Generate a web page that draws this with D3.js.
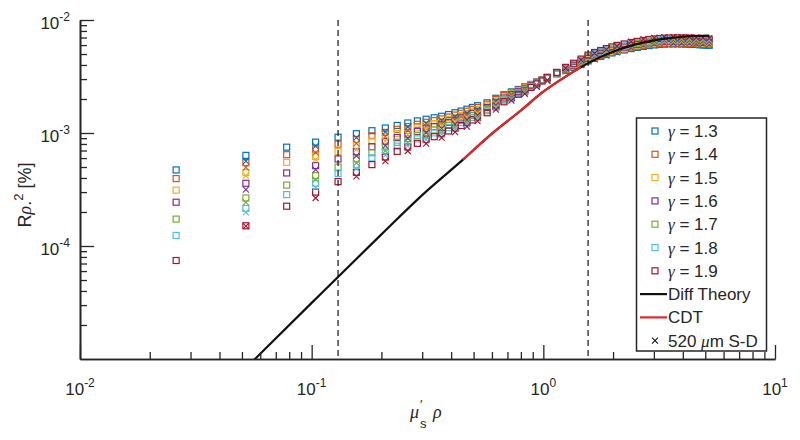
<!DOCTYPE html>
<html><head><meta charset="utf-8">
<script src="https://cdn.jsdelivr.net/npm/d3@7"></script>
<style>
body{margin:0;background:#fff}
svg{display:block}
text{font-family:"Liberation Sans",Arial,Helvetica,sans-serif;fill:#262626}
.serif{font-family:"Liberation Serif","Times New Roman",serif;font-style:italic}
</style>
</head><body>
<svg id="c" width="800" height="440"></svg>
<script>
// ---------------- data ----------------
const gammaLabels = ["1.3","1.4","1.5","1.6","1.7","1.8","1.9"];
const colors = ["#0072BD","#D95319","#EDB120","#7E2F8E","#77AC30","#4DBEEE","#A2142F"];

// mu_s' * rho for the square markers
const xSquares = [0.026,0.052,0.078,0.104,0.13,0.156,0.182,0.208,0.234,0.26,0.286,0.312,0.338,0.364,0.39,0.416,0.442,0.468,0.494,0.52,
  0.572,0.624,0.676,0.728,0.78,0.832,0.884,0.936,0.988,1.04,
  1.144,1.248,1.352,1.456,1.56,1.664,1.768,1.872,1.976,2.08,
  2.236,2.392,2.548,2.704,2.86,3.016,3.172,3.328,3.484,3.64,3.796,3.952,4.108,4.264,4.42,4.576,4.732,4.888,5.044,5.2];

const g13 = [0.471e-3,0.634e-3,0.749e-3,0.830e-3,0.918e-3,0.986e-3,1.048e-3,1.107e-3,1.167e-3,1.226e-3,1.279e-3,1.323e-3,1.364e-3,1.406e-3,1.456e-3,1.511e-3,1.564e-3,1.624e-3,1.685e-3,1.744e-3,
  1.85e-3,2.03e-3,2.18e-3,2.31e-3,2.43e-3,2.56e-3,2.69e-3,2.83e-3,2.95e-3,3.08e-3,
  3.34e-3,3.58e-3,3.81e-3,4.07e-3,4.34e-3,4.57e-3,4.76e-3,4.94e-3,5.11e-3,5.27e-3,
  5.43e-3,5.58e-3,5.72e-3,5.84e-3,5.94e-3,6.02e-3,6.07e-3,6.11e-3,6.14e-3,6.14e-3,6.15e-3,6.14e-3,6.12e-3,6.11e-3,6.09e-3,6.07e-3,6.04e-3,6.02e-3,5.99e-3,5.97e-3];
const g14 = [0.395e-3,0.547e-3,0.643e-3,0.719e-3,0.797e-3,0.877e-3,0.945e-3,1.013e-3,1.078e-3,1.139e-3,1.194e-3,1.243e-3,1.288e-3,1.334e-3,1.384e-3,1.441e-3,1.496e-3,1.558e-3,1.620e-3,1.685e-3,
  1.80e-3,1.98e-3,2.14e-3,2.27e-3,2.40e-3,2.53e-3,2.67e-3,2.81e-3,2.94e-3,3.08e-3,
  3.35e-3,3.62e-3,3.86e-3,4.14e-3,4.41e-3,4.66e-3,4.85e-3,5.03e-3,5.20e-3,5.37e-3,
  5.53e-3,5.69e-3,5.83e-3,5.95e-3,6.06e-3,6.13e-3,6.19e-3,6.22e-3,6.25e-3,6.26e-3,6.26e-3,6.26e-3,6.25e-3,6.23e-3,6.21e-3,6.19e-3,6.16e-3,6.13e-3,6.11e-3,6.09e-3];
const g15 = [0.312e-3,0.446e-3,0.550e-3,0.621e-3,0.684e-3,0.772e-3,0.847e-3,0.922e-3,0.990e-3,1.054e-3,1.110e-3,1.162e-3,1.211e-3,1.261e-3,1.313e-3,1.370e-3,1.427e-3,1.490e-3,1.555e-3,1.620e-3,
  1.741e-3,1.93e-3,2.09e-3,2.23e-3,2.36e-3,2.50e-3,2.65e-3,2.80e-3,2.93e-3,3.09e-3,
  3.37e-3,3.65e-3,3.91e-3,4.20e-3,4.50e-3,4.76e-3,4.95e-3,5.13e-3,5.31e-3,5.48e-3,
  5.64e-3,5.81e-3,5.95e-3,6.07e-3,6.17e-3,6.25e-3,6.32e-3,6.34e-3,6.37e-3,6.38e-3,6.38e-3,6.38e-3,6.37e-3,6.35e-3,6.33e-3,6.31e-3,6.28e-3,6.25e-3,6.23e-3,6.20e-3];
const g16 = [0.244e-3,0.359e-3,0.443e-3,0.514e-3,0.589e-3,0.681e-3,0.757e-3,0.840e-3,0.911e-3,0.974e-3,1.031e-3,1.090e-3,1.139e-3,1.191e-3,1.243e-3,1.302e-3,1.361e-3,1.427e-3,1.493e-3,1.561e-3,
  1.685e-3,1.87e-3,2.04e-3,2.19e-3,2.32e-3,2.46e-3,2.62e-3,2.78e-3,2.92e-3,3.09e-3,
  3.39e-3,3.69e-3,3.96e-3,4.28e-3,4.58e-3,4.84e-3,5.04e-3,5.23e-3,5.42e-3,5.58e-3,
  5.76e-3,5.92e-3,6.07e-3,6.19e-3,6.28e-3,6.37e-3,6.42e-3,6.46e-3,6.49e-3,6.50e-3,6.51e-3,6.50e-3,6.49e-3,6.47e-3,6.45e-3,6.42e-3,6.40e-3,6.37e-3,6.34e-3,6.32e-3];
const g17 = [0.173e-3,0.266e-3,0.346e-3,0.419e-3,0.499e-3,0.591e-3,0.669e-3,0.754e-3,0.828e-3,0.893e-3,0.951e-3,1.010e-3,1.062e-3,1.117e-3,1.172e-3,1.230e-3,1.292e-3,1.356e-3,1.427e-3,1.496e-3,
  1.624e-3,1.82e-3,1.99e-3,2.14e-3,2.28e-3,2.43e-3,2.59e-3,2.76e-3,2.91e-3,3.09e-3,
  3.41e-3,3.73e-3,4.02e-3,4.36e-3,4.68e-3,4.95e-3,5.15e-3,5.34e-3,5.53e-3,5.71e-3,
  5.87e-3,6.06e-3,6.19e-3,6.32e-3,6.42e-3,6.51e-3,6.57e-3,6.61e-3,6.63e-3,6.65e-3,6.65e-3,6.64e-3,6.63e-3,6.62e-3,6.59e-3,6.57e-3,6.54e-3,6.51e-3,6.49e-3,6.46e-3];
const g18 = [0.124e-3,0.215e-3,0.285e-3,0.360e-3,0.437e-3,0.525e-3,0.603e-3,0.691e-3,0.765e-3,0.830e-3,0.887e-3,0.949e-3,1.002e-3,1.058e-3,1.114e-3,1.174e-3,1.236e-3,1.302e-3,1.372e-3,1.444e-3,
  1.574e-3,1.77e-3,1.95e-3,2.11e-3,2.24e-3,2.40e-3,2.57e-3,2.74e-3,2.90e-3,3.10e-3,
  3.42e-3,3.76e-3,4.07e-3,4.42e-3,4.77e-3,5.04e-3,5.25e-3,5.44e-3,5.64e-3,5.82e-3,
  5.99e-3,6.16e-3,6.32e-3,6.44e-3,6.54e-3,6.63e-3,6.69e-3,6.73e-3,6.76e-3,6.77e-3,6.78e-3,6.77e-3,6.76e-3,6.74e-3,6.71e-3,6.69e-3,6.66e-3,6.63e-3,6.60e-3,6.58e-3];
const g19 = [0.0744e-3,0.151e-3,0.225e-3,0.300e-3,0.371e-3,0.449e-3,0.525e-3,0.613e-3,0.688e-3,0.752e-3,0.810e-3,0.873e-3,0.928e-3,0.986e-3,1.042e-3,1.103e-3,1.165e-3,1.233e-3,1.305e-3,1.378e-3,
  1.511e-3,1.709e-3,1.89e-3,2.05e-3,2.20e-3,2.36e-3,2.53e-3,2.72e-3,2.89e-3,3.11e-3,
  3.44e-3,3.81e-3,4.14e-3,4.51e-3,4.89e-3,5.16e-3,5.37e-3,5.58e-3,5.78e-3,5.96e-3,
  6.14e-3,6.32e-3,6.47e-3,6.60e-3,6.72e-3,6.80e-3,6.86e-3,6.90e-3,6.92e-3,6.93e-3,6.94e-3,6.93e-3,6.92e-3,6.90e-3,6.88e-3,6.86e-3,6.83e-3,6.80e-3,6.77e-3,6.75e-3];

// mu_s' * rho for the 520 um S-D cross markers
const xCross = [0.052,0.104,0.156,0.208,0.26,0.312,0.364,0.416,0.468,0.52,
  0.624,0.728,0.832,0.936,1.04,1.248,1.456,1.664,1.872,2.08,
  2.392,2.704,3.016,3.328,3.64,3.952,4.264,4.576,4.888,5.2];
const sd13 = [0.564e-3,0.764e-3,0.909e-3,1.021e-3,1.130e-3,1.220e-3,1.296e-3,1.393e-3,1.497e-3,1.608e-3,1.91e-3,2.17e-3,2.41e-3,2.66e-3,2.90e-3,3.51e-3,3.99e-3,4.48e-3,4.84e-3,5.16e-3,5.69e-3,5.96e-3,6.14e-3,6.23e-3,6.26e-3,6.26e-3,6.23e-3,6.19e-3,6.14e-3,6.09e-3];
const sd14 = [0.497e-3,0.670e-3,0.809e-3,0.934e-3,1.050e-3,1.146e-3,1.230e-3,1.329e-3,1.436e-3,1.554e-3,1.86e-3,2.14e-3,2.38e-3,2.64e-3,2.90e-3,3.55e-3,4.06e-3,4.57e-3,4.93e-3,5.26e-3,5.80e-3,6.07e-3,6.25e-3,6.34e-3,6.39e-3,6.39e-3,6.35e-3,6.31e-3,6.25e-3,6.21e-3];
const sd15 = [0.420e-3,0.581e-3,0.712e-3,0.850e-3,0.972e-3,1.071e-3,1.163e-3,1.263e-3,1.374e-3,1.494e-3,1.82e-3,2.10e-3,2.35e-3,2.63e-3,2.91e-3,3.58e-3,4.12e-3,4.66e-3,5.03e-3,5.37e-3,5.93e-3,6.19e-3,6.38e-3,6.47e-3,6.51e-3,6.51e-3,6.48e-3,6.44e-3,6.38e-3,6.32e-3];
const sd16 = [0.316e-3,0.474e-3,0.628e-3,0.774e-3,0.898e-3,1.005e-3,1.098e-3,1.200e-3,1.316e-3,1.439e-3,1.76e-3,2.06e-3,2.31e-3,2.62e-3,2.91e-3,3.62e-3,4.19e-3,4.74e-3,5.13e-3,5.47e-3,6.04e-3,6.31e-3,6.50e-3,6.59e-3,6.63e-3,6.63e-3,6.60e-3,6.55e-3,6.50e-3,6.45e-3];
const sd17 = [0.243e-3,0.387e-3,0.545e-3,0.695e-3,0.823e-3,0.931e-3,1.030e-3,1.134e-3,1.250e-3,1.379e-3,1.71e-3,2.01e-3,2.29e-3,2.60e-3,2.91e-3,3.66e-3,4.27e-3,4.85e-3,5.23e-3,5.60e-3,6.18e-3,6.45e-3,6.64e-3,6.74e-3,6.78e-3,6.77e-3,6.75e-3,6.70e-3,6.64e-3,6.59e-3];
const sd18 = [0.198e-3,0.329e-3,0.484e-3,0.637e-3,0.765e-3,0.875e-3,0.975e-3,1.082e-3,1.200e-3,1.331e-3,1.67e-3,1.99e-3,2.26e-3,2.58e-3,2.92e-3,3.68e-3,4.33e-3,4.94e-3,5.33e-3,5.70e-3,6.28e-3,6.57e-3,6.76e-3,6.86e-3,6.91e-3,6.91e-3,6.87e-3,6.82e-3,6.76e-3,6.71e-3];
const sd19 = [0.150e-3,0.266e-3,0.414e-3,0.565e-3,0.693e-3,0.805e-3,0.909e-3,1.017e-3,1.137e-3,1.271e-3,1.61e-3,1.93e-3,2.22e-3,2.56e-3,2.93e-3,3.73e-3,4.42e-3,5.06e-3,5.47e-3,5.84e-3,6.45e-3,6.73e-3,6.94e-3,7.04e-3,7.07e-3,7.07e-3,7.04e-3,7.00e-3,6.94e-3,6.89e-3];

// theory curves
const theoryX   = [0.045,0.05,0.1,0.2,0.3,0.45,0.6,0.8,1.0,1.2,1.45,1.6,2.0,2.5,3.0,3.5,4.0,4.5,5.2];
const diffTheory= [6.21e-6,7.69e-6,3.14e-5,1.267e-4,2.82e-4,5.81e-4,9.86e-4,1.582e-3,2.32e-3,3.00e-3,3.81e-3,4.26e-3,5.23e-3,6.08e-3,6.60e-3,6.92e-3,7.11e-3,7.22e-3,7.27e-3];
const cdtX = [0.45,0.6,0.8,1.0,1.2,1.45];
const cdt  = [5.81e-4,9.86e-4,1.582e-3,2.32e-3,3.00e-3,3.81e-3];

const vLines = [0.13, 1.56];
const xMajor = [1e-2,1e-1,1,10];
const xTickExp = ["-2","-1","0","1"];
const yMajor = [1e-4,1e-3,1e-2];
const yTickExp = ["-4","-3","-2"];
const legendText = ["Diff Theory","CDT"];

// ---------------- drawing ----------------
const svg = d3.select("#c");
const axisColor = "#262626";
const x = d3.scaleLog().domain([1e-2,10]).range([80,775]);
const y = d3.scaleLog().domain([1e-5,1e-2]).range([359,20]);

svg.append("defs").append("clipPath").attr("id","clip")
  .append("rect").attr("x",80).attr("y",20).attr("width",695).attr("height",339);

const plot = svg.append("g").attr("clip-path","url(#clip)");

const squareSeries = [g13,g14,g15,g16,g17,g18,g19];
const crossSeries = [sd13,sd14,sd15,sd16,sd17,sd18,sd19];
const ms = 6;

squareSeries.forEach((vals,i)=>{
  plot.append("g").selectAll("rect").data(vals.map((v,j)=>[xSquares[j],v])).join("rect")
    .attr("x",d=>x(d[0])-ms/2).attr("y",d=>y(d[1])-ms/2)
    .attr("width",ms).attr("height",ms)
    .attr("fill","none").attr("stroke",colors[i]).attr("stroke-width",1.2);
});
crossSeries.forEach((vals,i)=>{
  plot.append("g").selectAll("path").data(vals.map((v,j)=>[xCross[j],v])).join("path")
    .attr("transform",d=>`translate(${x(d[0])},${y(d[1])})`)
    .attr("d","M-3,-3L3,3M-3,3L3,-3")
    .attr("fill","none").attr("stroke",colors[i]).attr("stroke-width",1.1);
});

// dashed verticals
plot.selectAll("line.v").data(vLines).join("line").attr("class","v")
  .attr("x1",d=>x(d)).attr("x2",d=>x(d)).attr("y1",y(1e-2)).attr("y2",y(1e-5))
  .attr("stroke",axisColor).attr("stroke-width",1.3).attr("stroke-dasharray","6,4");

const line = d3.line().x(d=>x(d[0])).y(d=>y(d[1])).curve(d3.curveMonotoneX);
plot.append("path").datum(theoryX.map((v,i)=>[v,diffTheory[i]]))
  .attr("d",line).attr("fill","none").attr("stroke","#111").attr("stroke-width",2.2);
plot.append("path").datum(cdtX.map((v,i)=>[v,cdt[i]]))
  .attr("d",line).attr("fill","none").attr("stroke","#E5262A").attr("stroke-width",2.2);

// axes
function styleAxis(g){
  g.select(".domain").attr("stroke",axisColor).attr("stroke-width",1.6);
  g.selectAll(".tick line").attr("stroke",axisColor).attr("stroke-width",1.3);
  g.selectAll(".tick text").remove();
}
const xMinor = x.ticks().filter(v=>!xMajor.some(m=>Math.abs(m-v)/m<1e-9));
const yMinor = y.ticks().filter(v=>!yMajor.some(m=>Math.abs(m-v)/m<1e-9) && v>1.5e-5);

svg.append("g").attr("transform","translate(0,359)")
  .call(d3.axisBottom(x).tickValues(xMinor).tickSize(-7).tickSizeOuter(0)).call(styleAxis);
svg.append("g").attr("transform","translate(0,359)")
  .call(d3.axisBottom(x).tickValues(xMajor).tickSize(-14).tickSizeOuter(0)).call(styleAxis);
svg.append("g").attr("transform","translate(80,0)")
  .call(d3.axisLeft(y).tickValues(yMinor).tickSize(-7).tickSizeOuter(0)).call(styleAxis);
svg.append("g").attr("transform","translate(80,0)")
  .call(d3.axisLeft(y).tickValues(yMajor).tickSize(-14).tickSizeOuter(0)).call(styleAxis);

// tick labels
xMajor.forEach((v,i)=>{
  const t = svg.append("text").attr("x",x(v)).attr("y",395).attr("text-anchor","middle").style("font-size","17px");
  t.append("tspan").text("10");
  t.append("tspan").attr("dy",-8).style("font-size","12px").text(xTickExp[i]);
});
yMajor.forEach((v,i)=>{
  const t = svg.append("text").attr("x",70).attr("y",y(v)+9).attr("text-anchor","end").style("font-size","17px");
  t.append("tspan").text("10");
  t.append("tspan").attr("dy",-8).style("font-size","12px").text(yTickExp[i]);
});

// axis titles
const yl = svg.append("text").attr("transform","translate(31,195) rotate(-90)")
  .attr("text-anchor","middle").style("font-size","18px");
yl.append("tspan").text("R");
yl.append("tspan").attr("class","serif").text("ρ");
yl.append("tspan").text(".");
yl.append("tspan").attr("dy",-8).style("font-size","13px").text("2");
yl.append("tspan").attr("dy",8).text(" [%]");

// x title: mu with stacked prime / subscript s, then rho
svg.append("text").attr("class","serif").attr("x",419).attr("y",418).attr("text-anchor","end")
  .style("font-size","18px").text("μ");
svg.append("text").attr("x",420).attr("y",409).style("font-size","13px").text("′");
svg.append("text").attr("x",420).attr("y",428).style("font-size","13px").text("s");
svg.append("text").attr("class","serif").attr("x",433).attr("y",418)
  .style("font-size","18px").text("ρ");

// legend
const lg = svg.append("g");
lg.append("rect").attr("x",636.5).attr("y",118).attr("width",130).attr("height",233)
  .attr("fill","#fff").attr("stroke",axisColor).attr("stroke-width",1.5);
const rowY = i => 131 + i*23.3;
gammaLabels.forEach((g,i)=>{
  lg.append("rect").attr("x",655-3).attr("y",rowY(i)-3).attr("width",6).attr("height",6)
    .attr("fill","none").attr("stroke",colors[i]).attr("stroke-width",1.2);
  const t = lg.append("text").attr("x",668).attr("y",rowY(i)+6).style("font-size","17px");
  t.append("tspan").attr("class","serif").text("γ");
  t.append("tspan").text(" = "+g);
});
[["#111",legendText[0]],["#E5262A",legendText[1]]].forEach((d,j)=>{
  const yy = rowY(7+j);
  lg.append("line").attr("x1",640).attr("x2",667).attr("y1",yy).attr("y2",yy)
    .attr("stroke",d[0]).attr("stroke-width",2.2);
  lg.append("text").attr("x",668).attr("y",yy+6).style("font-size","17px").text(d[1]);
});
{
  const yy = rowY(9);
  lg.append("path").attr("transform",`translate(655,${yy})`).attr("d","M-3,-3L3,3M-3,3L3,-3")
    .attr("stroke","#111").attr("stroke-width",1.1);
  const t = lg.append("text").attr("x",668).attr("y",yy+6).style("font-size","17px");
  t.append("tspan").text("520 ");
  t.append("tspan").attr("class","serif").text("μ");
  t.append("tspan").text("m S-D");
}
</script>
</body></html>
